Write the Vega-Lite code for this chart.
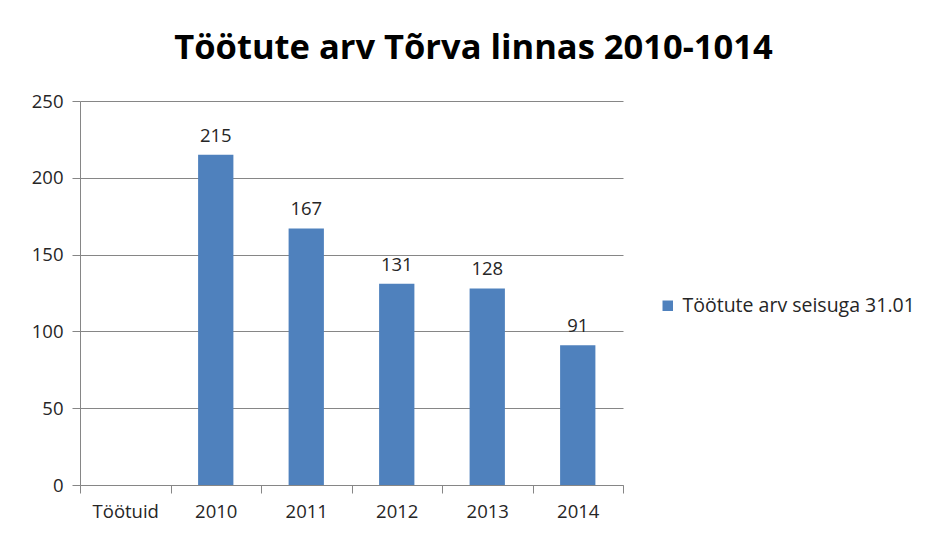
{
  "$schema": "https://vega.github.io/schema/vega-lite/v6.json",
  "width": 543,
  "height": 384,
  "autosize": {"type": "none"},
  "padding": {"left": 80, "top": 101, "right": 302, "bottom": 52},
  "background": "white",
  "title": {
    "text": "Töötute arv Tõrva linnas 2010-1014",
    "font": "Open Sans",
    "fontSize": 34.5,
    "fontWeight": "bold",
    "color": "#000000",
    "anchor": "middle",
    "frame": "group",
    "dx": 122,
    "offset": 26
  },
  "data": {
    "values": [
      {"aasta": "2010", "tootuid": 215, "seeria": "Töötute arv seisuga 31.01"},
      {"aasta": "2011", "tootuid": 167, "seeria": "Töötute arv seisuga 31.01"},
      {"aasta": "2012", "tootuid": 131, "seeria": "Töötute arv seisuga 31.01"},
      {"aasta": "2013", "tootuid": 128, "seeria": "Töötute arv seisuga 31.01"},
      {"aasta": "2014", "tootuid": 91, "seeria": "Töötute arv seisuga 31.01"}
    ]
  },
  "encoding": {
    "x": {
      "field": "aasta",
      "type": "nominal",
      "scale": {"domain": ["Töötuid", "2010", "2011", "2012", "2013", "2014"], "paddingInner": 0, "paddingOuter": 0},
      "axis": {
        "title": null,
        "labelAngle": 0,
        "labelFont": "Open Sans",
        "labelFontSize": 18.5,
        "labelColor": "#262626",
        "labelPadding": 9,
        "domainColor": "#868686",
        "tickColor": "#868686",
        "tickSize": 8,
        "tickBand": "extent",
        "grid": false
      }
    },
    "y": {
      "field": "tootuid",
      "type": "quantitative",
      "scale": {"domain": [0, 250]},
      "axis": {
        "title": null,
        "values": [0, 50, 100, 150, 200, 250],
        "labelFont": "Open Sans",
        "labelFontSize": 18.5,
        "labelColor": "#262626",
        "labelPadding": 9,
        "domainColor": "#868686",
        "tickColor": "#868686",
        "tickSize": 8,
        "gridColor": "#868686",
        "grid": true
      }
    }
  },
  "layer": [
    {
      "mark": {"type": "bar", "color": "#4F81BD", "width": {"band": 0.39}},
      "encoding": {
        "color": {
          "field": "seeria",
          "type": "nominal",
          "scale": {"range": ["#4F81BD"]},
          "legend": {
            "title": null,
            "orient": "none",
            "legendX": 578,
            "legendY": 195,
            "symbolType": "square",
            "symbolSize": 110,
            "symbolStrokeWidth": 0,
            "labelFont": "Open Sans",
            "labelFontSize": 19.5,
            "labelColor": "#262626",
            "labelOffset": 5,
            "labelLimit": 400
          }
        }
      }
    },
    {
      "mark": {"type": "text", "baseline": "bottom", "dy": -9, "font": "Open Sans", "fontSize": 18.5, "color": "#262626"},
      "encoding": {"text": {"field": "tootuid", "type": "quantitative"}}
    }
  ],
  "config": {"view": {"stroke": null}}
}
